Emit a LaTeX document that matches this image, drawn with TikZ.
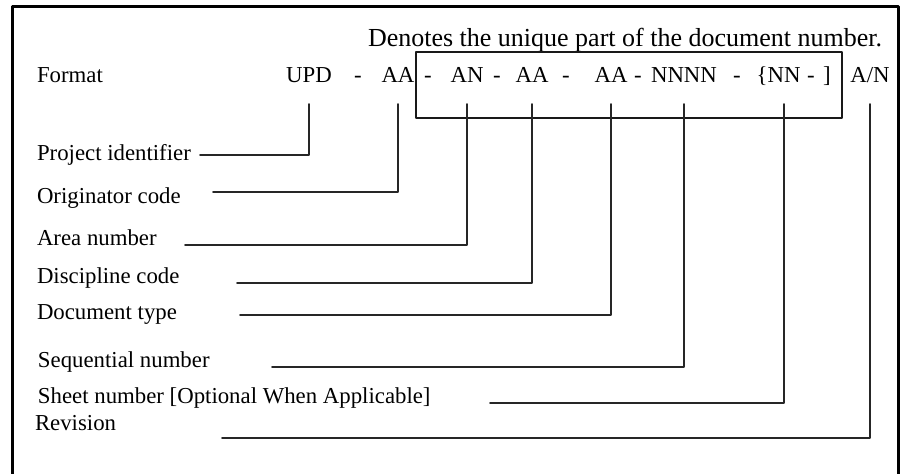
\documentclass[tikz,border=0pt]{standalone}
\usepackage{fontspec}
\setmainfont{Liberation Serif}
\usetikzlibrary{positioning,calc}

\begin{document}
\begin{tikzpicture}[x=0.5pt, y=-0.5pt, line cap=round, line join=round,
                    every node/.style={outer sep=0pt, inner sep=0pt}]

  \tikzset{
    frame/.style={line width=1.5pt, draw=black},
    unique/.style={line width=0.8pt, draw=black!90},
    lead/.style={line width=0.8pt, draw=black!85},
    code/.style={font=\fontsize{11.4}{13}\selectfont, anchor=base,
                 text height=0.7em, text depth=0.25em, inner ysep=8pt},
    lbl/.style={font=\fontsize{11.4}{13}\selectfont, anchor=base west},
    note/.style={font=\fontsize{13}{15}\selectfont, anchor=base west}
  }

  \path[use as bounding box] (0,0) rectangle (900,474);

  % frame, open at the bottom
  \draw[frame] (12,474) -- (12,7) -- (898,7) -- (898,474);

  % format line
  \node[note] (note) at (368,47) {Denotes the unique part of the document number.};
  \node[lbl]  (fmt)  at (37,83)  {Format};
  \node[code] (upd)  at (309,83) {UPD};
  \node[code] (d1)   at (358,83) {-};
  \node[code] (oa)   at (398,83) {AA};
  \node[code] (d2)   at (428,83) {-};
  \node[code] (an)   at (467,83) {AN};
  \node[code] (d3)   at (497,83) {-};
  \node[code] (da)   at (532,83) {AA};
  \node[code] (d4)   at (566,83) {-};
  \node[code] (ta)   at (611,83) {AA};
  \node[code] (d5)   at (638,83) {-};
  \node[code] (sq)   at (684,83) {NNNN};
  \node[code] (d6)   at (737,83) {-};
  \node[code] (sh)   at (784,83) {NN};
  \node[code, anchor=base east] (ob) at (sh.base west) {\{};
  \node[code] (d7)   at (811,83) {-};
  \node[code] (cb)   at (827,83) {]};
  \node[code] (rv)   at (870,83) {A/N};

  \draw[unique] (416,52) rectangle (842,118);

  % field names
  \node[lbl] (lpi) at (37,161) {Project identifier};
  \node[lbl] (loc) at (37,204) {Originator code};
  \node[lbl] (lan) at (37,246) {Area number};
  \node[lbl] (ldc) at (37,284) {Discipline code};
  \node[lbl] (ldt) at (37,320) {Document type};
  \node[lbl] (lsn) at (38,368) {Sequential number};
  \node[lbl] (lsh) at (38,404) {Sheet number [Optional When Applicable]};
  \node[lbl] (lrv) at (35,431) {Revision};

  \coordinate (epi) at (200,155);
  \coordinate (eoc) at (213,192);
  \coordinate (ean) at (185,245);
  \coordinate (edc) at (237,283);
  \coordinate (edt) at (240,315);
  \coordinate (esn) at (272,367);
  \coordinate (esh) at (490,403);
  \coordinate (erv) at (222,438);

  \foreach \c/\e in {upd/epi,oa/eoc,an/ean,da/edc,ta/edt,sq/esn,sh/esh,rv/erv}
    \draw[lead] (\c.south) |- (\e);
\end{tikzpicture}
\end{document}
